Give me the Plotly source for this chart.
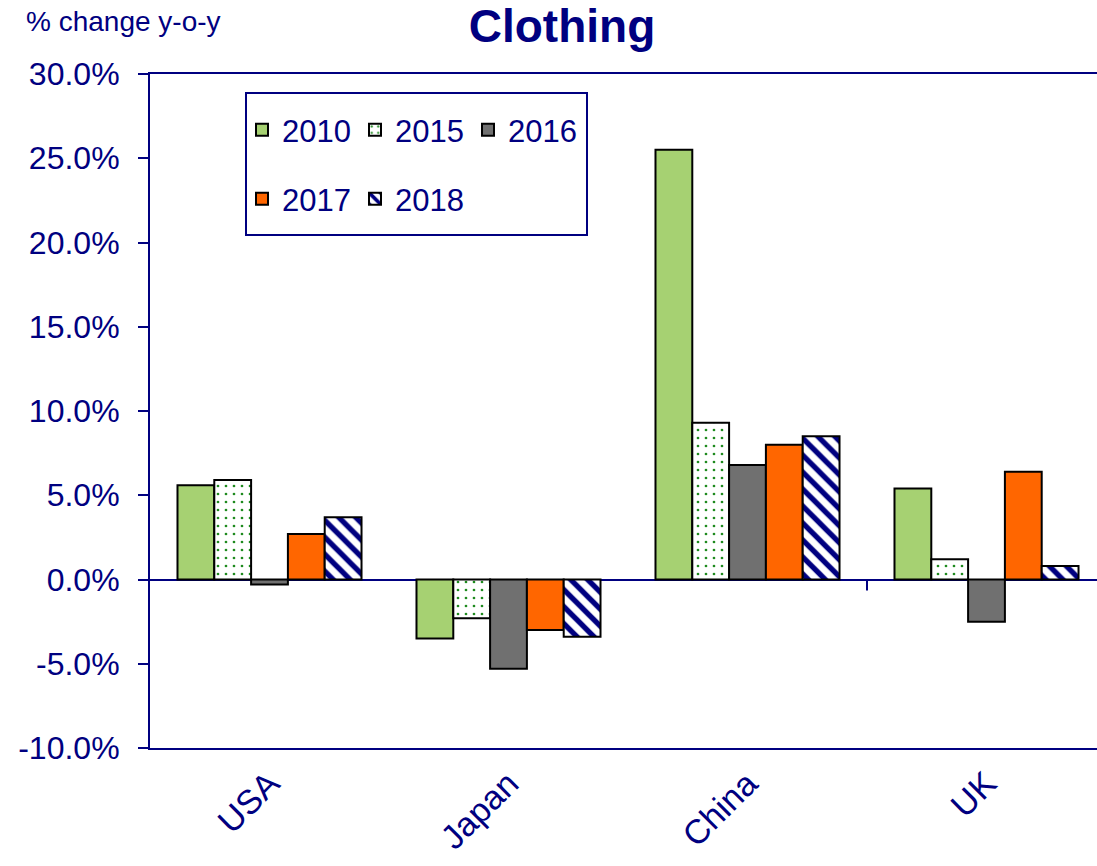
import plotly.graph_objects as go

categories = ["USA", "Japan", "China", "UK"]
years = ["2010", "2015", "2016", "2017", "2018"]
v2010 = [5.6, -3.5, 25.5, 5.4]
v2015 = [5.9, -2.3, 9.3, 1.2]
v2016 = [-0.3, -5.3, 6.8, -2.5]
v2017 = [2.7, -3.0, 8.0, 6.4]
v2018 = [3.7, -3.4, 8.5, 0.8]
series = [v2010, v2015, v2016, v2017, v2018]

y_tickvals = [-10, -5, 0, 5, 10, 15, 20, 25, 30]
y_ticktext = ["-10.0%", "-5.0%", "0.0%", "5.0%", "10.0%", "15.0%", "20.0%", "25.0%", "30.0%"]

NAVY = "#000080"
styles = [
    dict(color="#A6D172"),
    dict(color="white", pattern=dict(shape=".", fgcolor="#1E8A1E", bgcolor="white",
                                     fgopacity=1, size=8, solidity=0.09)),
    dict(color="#707070"),
    dict(color="#FF6600"),
    dict(color="white", pattern=dict(shape="\\", fgcolor=NAVY, bgcolor="white",
                                     fgopacity=1, size=12, solidity=0.45)),
]
legends = ["legend", "legend", "legend", "legend2", "legend2"]

fig = go.Figure()
xs = list(range(len(categories)))
for yr, vals, st, lg in zip(years, series, styles, legends):
    fig.add_trace(go.Bar(
        x=xs, y=vals, name=yr, legend=lg,
        marker=dict(line=dict(color="black", width=2), **st),
    ))

W, H = 1097, 866
L, R, T, B = 150, 0, 74, 118
pw = W - L - R
ph = H - T - B
cat_px = 239.0
xmax = -0.5 + pw / cat_px

leg_common = dict(orientation="h", x=(242 - L) / pw, xanchor="left", yanchor="middle",
                  bgcolor="rgba(0,0,0,0)", borderwidth=0,
                  font=dict(size=31, color=NAVY),
                  entrywidth=68, entrywidthmode="pixels", traceorder="normal")

fig.update_layout(
    width=W, height=H,
    margin=dict(l=L, r=R, t=T, b=B),
    paper_bgcolor="white", plot_bgcolor="white",
    barmode="group", bargap=0.23, bargroupgap=0,
    font=dict(family="Liberation Sans, Arial, sans-serif", color=NAVY, size=32),
    title=dict(text="<b>Clothing</b>", x=562 / W, xanchor="center", xref="container",
               y=1 - 26 / H, yanchor="middle", yref="container",
               font=dict(size=46, color=NAVY)),
    showlegend=True,
    legend=dict(y=1 - (130 - T) / ph, **leg_common),
    legend2=dict(y=1 - (199 - T) / ph, **leg_common),
)

fig.update_xaxes(
    range=[-0.5, xmax], tickvals=xs, ticktext=categories, tickangle=-45,
    showline=True, linecolor=NAVY, linewidth=2, mirror=True,
    ticks="", showgrid=False, zeroline=False,
    tickfont=dict(size=34, color=NAVY),
)
fig.update_yaxes(
    range=[-10, 30], tickvals=y_tickvals, ticktext=y_ticktext,
    showline=True, linecolor=NAVY, linewidth=2, mirror=False,
    ticks="outside", ticklen=10, tickwidth=2, tickcolor=NAVY,
    showgrid=False, zeroline=True, zerolinecolor=NAVY, zerolinewidth=2,
    tickfont=dict(size=32, color=NAVY), ticklabelstandoff=12,
)

# category boundary tick on the zero line
fig.add_shape(type="line", xref="x", yref="y", x0=2.5, x1=2.5,
              ysizemode="pixel", yanchor=0, y0=0, y1=-11,
              line=dict(color=NAVY, width=2))

# legend frame
fig.add_shape(type="rect", xref="paper", yref="paper",
              x0=(246 - L) / pw, x1=(587 - L) / pw,
              y0=1 - (235 - T) / ph, y1=1 - (93 - T) / ph,
              line=dict(color=NAVY, width=2), fillcolor="rgba(0,0,0,0)", layer="above")

fig.add_annotation(text="% change y-o-y", xref="paper", yref="paper",
                   x=(24 - L) / pw, xanchor="left", y=1 + (T - 21) / ph, yanchor="middle",
                   showarrow=False, font=dict(size=28, color=NAVY))

fig.write_html("out.html", config={"displayModeBar": False},
               post_script="document.body.style.margin='0';")
